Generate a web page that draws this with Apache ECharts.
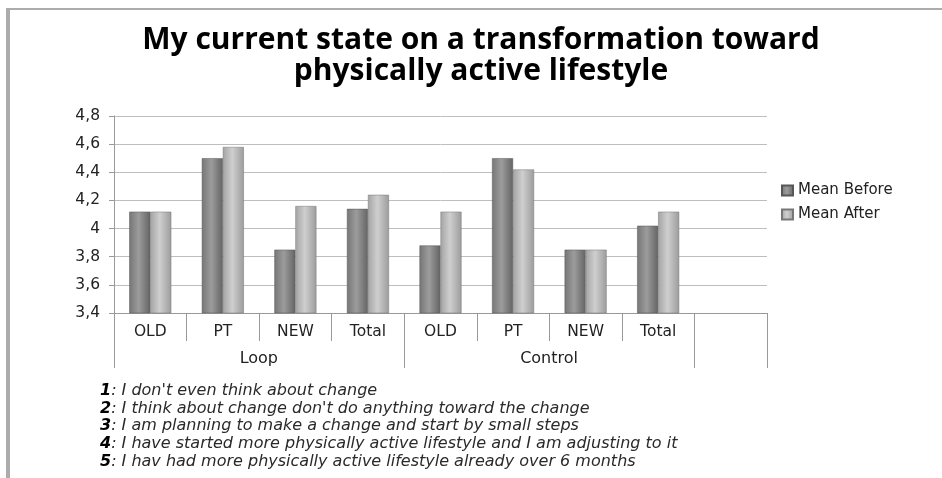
<!DOCTYPE html>
<html>
<head>
<meta charset="utf-8">
<script src="https://cdn.jsdelivr.net/npm/echarts@6/dist/echarts.min.js"></script>
<style>
  html, body { margin: 0; padding: 0; background: #fff; }
  #chart { width: 942px; height: 478px; }
</style>
</head>
<body>
<div id="chart"></div>
<script>
const categories = ["OLD", "PT", "NEW", "Total", "OLD", "PT", "NEW", "Total", ""];
const groups = ["", "Loop", "", "", "", "Control", "", "", ""];
const meanBefore = [4.12, 4.50, 3.85, 4.14, 3.88, 4.50, 3.85, 4.02];
const meanAfter = [4.12, 4.58, 4.16, 4.24, 4.12, 4.42, 3.85, 4.12];
const notes = [
  ["1", "I don't even think about change"],
  ["2", "I think about change don't do anything toward the change"],
  ["3", "I am planning to make a change and start by small steps"],
  ["4", "I have started more physically active lifestyle and I am adjusting to it"],
  ["5", "I hav had more physically active lifestyle already over 6 months"]
];

const chart = echarts.init(document.getElementById("chart"));

const barFill = (a, b, c) => new echarts.graphic.LinearGradient(0, 0, 1, 0, [
  { offset: 0, color: a },
  { offset: 0.45, color: b },
  { offset: 1, color: c }
]);

chart.setOption({
  animation: false,
  textStyle: { fontFamily: "DejaVu Sans" },
  title: [
    {
      text: "My current state on a transformation toward\nphysically active lifestyle",
      left: 476,
      textAlign: "center",
      top: 20,
      textStyle: { fontFamily: "Open Sans", fontWeight: "bold", fontSize: 30, lineHeight: 31, color: "#000" }
    },
    {
      text: notes.map(n => "{b|" + n[0] + "}{i|: " + n[1] + "}").join("\n"),
      left: 95,
      top: 377,
      textStyle: {
        fontWeight: "normal",
        rich: {
          b: { fontFamily: "DejaVu Sans", fontWeight: "bold", fontStyle: "italic", fontSize: 16, color: "#000", lineHeight: 17.7 },
          i: { fontFamily: "DejaVu Sans", fontWeight: "normal", fontStyle: "italic", fontSize: 16, color: "#2a2a2a", lineHeight: 17.7 }
        }
      }
    }
  ],
  legend: {
    orient: "vertical",
    left: 776,
    top: 178,
    itemWidth: 11,
    itemHeight: 10,
    itemGap: 9,
    icon: "rect",
    textStyle: { fontFamily: "DejaVu Sans", fontSize: 15, color: "#222" },
    data: ["Mean Before", "Mean After"]
  },
  grid: { left: 114, right: 175, top: 116, bottom: 165 },
  xAxis: [
    {
      type: "category",
      data: categories,
      axisLine: { lineStyle: { color: "#999" } },
      axisTick: { show: true, length: 28, interval: 0, lineStyle: { color: "#999" } },
      axisLabel: { interval: 0, margin: 11, fontSize: 15.5, color: "#222" }
    },
    {
      type: "category",
      position: "bottom",
      data: groups,
      axisLine: { show: false },
      axisTick: {
        show: true,
        length: 55,
        interval: (i) => i === 0 || i === 4 || i === 8,
        lineStyle: { color: "#999" }
      },
      axisLabel: {
        interval: 0,
        margin: 38,
        formatter: (v) => (v ? "{g|" + v + "}" : ""),
        rich: { g: { fontFamily: "DejaVu Sans", fontSize: 16, color: "#222", padding: [0, 0, 0, 72] } }
      }
    }
  ],
  yAxis: {
    type: "value",
    min: 3.4,
    max: 4.8,
    interval: 0.2,
    axisLine: { show: true, lineStyle: { color: "#999" } },
    axisTick: { show: true, length: 5, lineStyle: { color: "#999" } },
    axisLabel: {
      fontSize: 15.5,
      color: "#222",
      margin: 14,
      formatter: (v) => String(Math.round(v * 10) / 10).replace(".", ",")
    },
    splitLine: { lineStyle: { color: "#bebebe", width: 1 } }
  },
  series: [
    {
      name: "Mean Before",
      type: "bar",
      data: meanBefore,
      barWidth: 21,
      barGap: "0%",
      itemStyle: { color: barFill("#767676", "#9c9c9c", "#646464"), borderColor: "#575757", borderWidth: 0.5 }
    },
    {
      name: "Mean After",
      type: "bar",
      data: meanAfter,
      barWidth: 21,
      itemStyle: { color: barFill("#a4a4a4", "#cfcfcf", "#9c9c9c"), borderColor: "#777", borderWidth: 0.5 }
    }
  ],
  graphic: [
    { type: "rect", shape: { x: 6, y: 8, width: 4, height: 470 }, style: { fill: "#acacac" }, silent: true },
    { type: "rect", shape: { x: 6, y: 8, width: 936, height: 2 }, style: { fill: "#acacac" }, silent: true }
  ]
});
</script>
</body>
</html>
